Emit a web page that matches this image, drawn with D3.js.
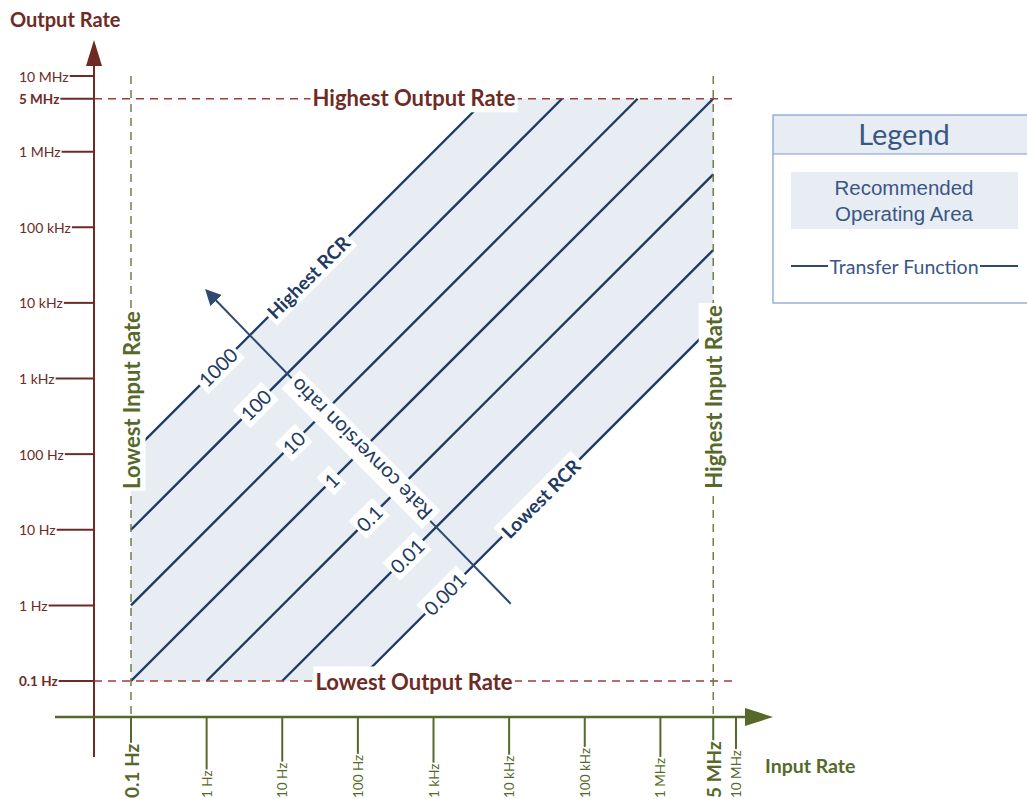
<!DOCTYPE html>
<html>
<head>
<meta charset="utf-8">
<script src="https://cdn.jsdelivr.net/npm/d3@7"></script>
<style>
  body { margin: 0; background: #fff; }
  text { font-family: Lato, "Open Sans", sans-serif; }
</style>
</head>
<body>
<script>
// ---- data ----
var outputTicks = [0.1, 1, 10, 100, 1e3, 1e4, 1e5, 1e6, 5e6, 1e7];
var outputTickLabels = ["0.1 Hz", "1 Hz", "10 Hz", "100 Hz", "1 kHz", "10 kHz", "100 kHz", "1 MHz", "5 MHz", "10 MHz"];
var inputTicks = [0.1, 1, 10, 100, 1e3, 1e4, 1e5, 1e6, 5e6, 1e7];
var inputTickLabels = ["0.1 Hz", "1 Hz", "10 Hz", "100 Hz", "1 kHz", "10 kHz", "100 kHz", "1 MHz", "5 MHz", "10 MHz"];
var limitTicks = [0.1, 5e6];          // drawn bold
var lowestRate = 0.1, highestRate = 5e6;
var rcrValues = [1000, 100, 10, 1, 0.1, 0.01, 0.001];
var rcrLabels = ["1000", "100", "10", "1", "0.1", "0.01", "0.001"];
var labelProduct = 2000;              // in*out where ratio labels sit

var maroon = "#6e2b25", olive = "#56692b", navy = "#1f3b63", blueText = "#3a5784", fillArea = "#e8edf4";

var svg = d3.select("body").append("svg")
    .attr("width", 1027)
    .attr("height", 799);

var x = d3.scaleLog().domain([0.1, 1e7]).range([131, 736]);
var y = d3.scaleLog().domain([0.1, 1e7]).range([681, 76]);

// helper: label with white box, rotated
function boxedText(g, px, py, angle, str, opts) {
  var grp = g.append("g").attr("transform", "translate(" + px + "," + py + ") rotate(" + angle + ")");
  var rect = grp.append("rect").attr("fill", "#fff");
  var t = grp.append("text")
      .attr("text-anchor", "middle")
      .attr("dominant-baseline", "central")
      .attr("font-size", opts.size)
      .attr("font-weight", opts.bold ? "bold" : "normal")
      .attr("fill", opts.color)
      .text(str);
  var b = t.node().getBBox();
  var p = opts.pad == null ? 3 : opts.pad;
  rect.attr("x", b.x - p).attr("y", b.y - 1).attr("width", b.width + 2 * p).attr("height", b.height + 2);
  return grp;
}

// ---- recommended operating area ----
var rHi = d3.max(rcrValues), rLo = d3.min(rcrValues);
var area = [
  [lowestRate, lowestRate * rHi],
  [highestRate / rHi, highestRate],
  [highestRate, highestRate],
  [highestRate, highestRate * rLo],
  [lowestRate / rLo, lowestRate],
  [lowestRate, lowestRate]
];
svg.append("path")
    .attr("d", d3.line().x(d => x(d[0])).y(d => y(d[1]))(area) + "Z")
    .attr("fill", fillArea);

// ---- transfer function lines ----
svg.selectAll(".tf")
    .data(rcrValues)
    .enter()
    .append("line")
    .attr("class", "tf")
    .attr("x1", r => x(Math.max(lowestRate, lowestRate / r)))
    .attr("y1", r => y(Math.max(lowestRate, lowestRate / r) * r))
    .attr("x2", r => x(Math.min(highestRate, highestRate / r)))
    .attr("y2", r => y(Math.min(highestRate, highestRate / r) * r))
    .attr("stroke", navy)
    .attr("stroke-width", 2.4);

// ---- limits (dashed) ----
svg.selectAll(".hlim")
    .data([lowestRate, highestRate])
    .enter()
    .append("line")
    .attr("x1", 94).attr("x2", 736)
    .attr("y1", d => y(d)).attr("y2", d => y(d))
    .attr("stroke", "#9c3f36").attr("stroke-width", 1.4)
    .attr("stroke-dasharray", "8,6");
svg.selectAll(".vlim")
    .data([lowestRate, highestRate])
    .enter()
    .append("line")
    .attr("y1", 76).attr("y2", 717)
    .attr("x1", d => x(d)).attr("x2", d => x(d))
    .attr("stroke", "#64793a").attr("stroke-width", 1.4)
    .attr("stroke-dasharray", "8,6");

// ---- rate conversion arrow ----
svg.append("defs").append("marker")
    .attr("id", "arr")
    .attr("viewBox", "0 0 10 10")
    .attr("refX", 2).attr("refY", 5)
    .attr("markerWidth", 8).attr("markerHeight", 8)
    .attr("orient", "auto")
    .append("path").attr("d", "M0,0L10,5L0,10Z").attr("fill", "#2e4a70");
svg.append("line")
    .attr("x1", x(1.05e4)).attr("y1", y(1.05))
    .attr("x2", x(1.25)).attr("y2", y(1.15e4))
    .attr("stroke", "#2e4a70").attr("stroke-width", 2)
    .attr("marker-end", "url(#arr)");

var labels = svg.append("g");
boxedText(labels, x(110), y(115), -135, "Rate conversion ratio", {size: 20.5, color: navy, pad: 4});

// ratio labels
rcrValues.forEach(function (r, i) {
  var xin = Math.sqrt(labelProduct / r), xout = Math.sqrt(labelProduct * r);
  boxedText(labels, x(xin), y(xout), -45, rcrLabels[i], {size: 19.5, color: navy, pad: 3});
});
boxedText(labels, x(22), y(22 * rHi), -45, "Highest RCR", {size: 19, bold: true, color: navy, pad: 3});
boxedText(labels, x(2.6e4), y(2.6e4 * rLo), -45, "Lowest RCR", {size: 19, bold: true, color: navy, pad: 3});

boxedText(labels, 414, y(highestRate) - 1, 0, "Highest Output Rate", {size: 22, bold: true, color: maroon, pad: 2});
boxedText(labels, 414, y(lowestRate), 0, "Lowest Output Rate", {size: 22, bold: true, color: maroon, pad: 2});
boxedText(labels, x(lowestRate), 400, -90, "Lowest Input Rate", {size: 22, bold: true, color: olive, pad: 2});
boxedText(labels, x(highestRate), 397, -90, "Highest Input Rate", {size: 22, bold: true, color: olive, pad: 2});

// ---- y axis (output rate) ----
svg.append("line")
    .attr("x1", 94).attr("x2", 94).attr("y1", 757).attr("y2", 62)
    .attr("stroke", maroon).attr("stroke-width", 2);
svg.append("path").attr("d", "M94,40L86,66L102,66Z").attr("fill", maroon);

var yt = svg.selectAll(".yt")
    .data(outputTicks)
    .enter()
    .append("g");
yt.append("text")
    .attr("x", 19)
    .attr("y", d => y(d))
    .attr("dominant-baseline", "central")
    .attr("font-size", d => limitTicks.includes(d) ? 13.5 : 14)
    .attr("font-weight", d => limitTicks.includes(d) ? "bold" : "normal")
    .attr("fill", maroon)
    .text((d, i) => outputTickLabels[i]);
yt.append("line")
    .attr("x1", function () { return 19 + this.parentNode.querySelector("text").getComputedTextLength() + 1; })
    .attr("x2", 94)
    .attr("y1", d => y(d)).attr("y2", d => y(d))
    .attr("stroke", maroon).attr("stroke-width", 2);

svg.append("text")
    .attr("x", 10).attr("y", 27)
    .attr("font-size", 20).attr("font-weight", "bold")
    .attr("fill", maroon)
    .text("Output Rate");

// ---- x axis (input rate) ----
svg.append("line")
    .attr("x1", 55).attr("x2", 750).attr("y1", 717).attr("y2", 717)
    .attr("stroke", olive).attr("stroke-width", 2.5);
svg.append("path").attr("d", "M773,717L745,708L745,726Z").attr("fill", olive);

var xt = svg.selectAll(".xt")
    .data(inputTicks)
    .enter()
    .append("g");
xt.append("text")
    .attr("transform", d => "translate(" + (x(d)) + ",798) rotate(-90)")
    .attr("dominant-baseline", "central")
    .attr("font-size", d => limitTicks.includes(d) ? 19 : 13.5)
    .attr("font-weight", d => limitTicks.includes(d) ? "bold" : "normal")
    .attr("fill", olive)
    .text((d, i) => inputTickLabels[i]);
xt.append("line")
    .attr("x1", d => x(d)).attr("x2", d => x(d))
    .attr("y1", 717)
    .attr("y2", function () { return 798 - this.parentNode.querySelector("text").getComputedTextLength() - 1; })
    .attr("stroke", olive).attr("stroke-width", 2);

svg.append("text")
    .attr("x", 765).attr("y", 773)
    .attr("font-size", 19.5).attr("font-weight", "bold")
    .attr("fill", olive)
    .text("Input Rate");

// ---- legend ----
var lg = svg.append("g");
lg.append("rect")
    .attr("x", 773).attr("y", 115).attr("width", 270).attr("height", 39)
    .attr("fill", fillArea);
lg.append("rect")
    .attr("x", 773).attr("y", 115).attr("width", 270).attr("height", 188)
    .attr("fill", "none").attr("stroke", "#7f9ccb").attr("stroke-width", 1.2);
lg.append("line")
    .attr("x1", 773).attr("x2", 1030).attr("y1", 154).attr("y2", 154)
    .attr("stroke", "#7f9ccb").attr("stroke-width", 1.2);
lg.append("text")
    .attr("x", 904).attr("y", 133)
    .attr("text-anchor", "middle").attr("dominant-baseline", "central")
    .attr("font-size", 29).attr("fill", blueText)
    .text("Legend");
lg.append("rect")
    .attr("x", 791).attr("y", 172).attr("width", 227).attr("height", 57)
    .attr("fill", fillArea);
lg.selectAll(".la")
    .data(["Recommended", "Operating Area"])
    .enter()
    .append("text")
    .attr("x", 904).attr("y", (d, i) => 187 + i * 26)
    .attr("text-anchor", "middle").attr("dominant-baseline", "central")
    .attr("font-size", 20.5).attr("fill", blueText)
    .style("font-family", "'Liberation Sans', Arial, sans-serif")
    .text(d => d);
lg.append("text")
    .attr("x", 904).attr("y", 266)
    .attr("text-anchor", "middle").attr("dominant-baseline", "central")
    .attr("font-size", 19.5).attr("fill", blueText)
    .text("Transfer Function");
lg.selectAll(".ll")
    .data([[791, 828], [980, 1018]])
    .enter()
    .append("line")
    .attr("x1", d => d[0]).attr("x2", d => d[1])
    .attr("y1", 266).attr("y2", 266)
    .attr("stroke", "#2e4a70").attr("stroke-width", 2);
</script>
</body>
</html>
